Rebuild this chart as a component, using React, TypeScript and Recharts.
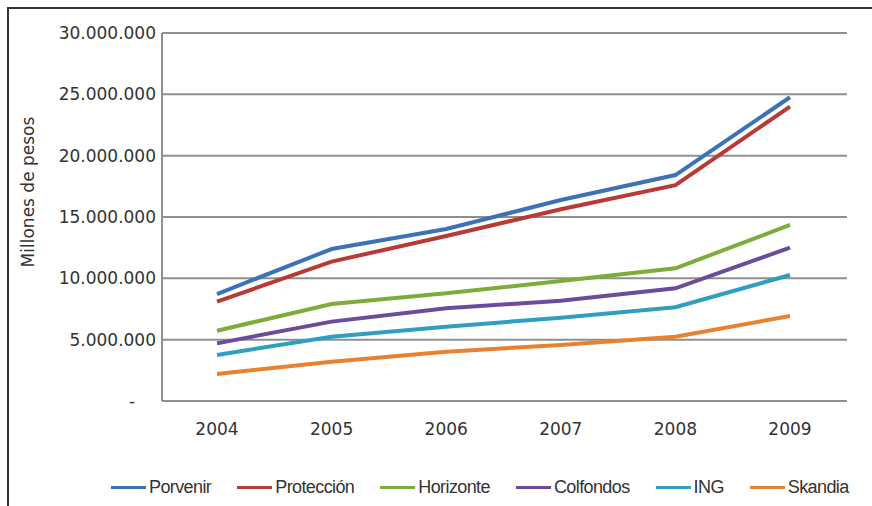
import { CartesianGrid, Line, LineChart, XAxis, YAxis } from "recharts";

const YEARS = ["2004", "2005", "2006", "2007", "2008", "2009"];

const PORVENIR = [8720000, 12390000, 14020000, 16390000, 18420000, 24760000];
const PROTECCION = [8100000, 11360000, 13450000, 15630000, 17600000, 24000000];
const HORIZONTE = [5730000, 7910000, 8780000, 9780000, 10820000, 14350000];
const COLFONDOS = [4700000, 6470000, 7560000, 8180000, 9190000, 12500000];
const ING = [3750000, 5240000, 6060000, 6790000, 7640000, 10270000];
const SKANDIA = [2200000, 3200000, 4020000, 4570000, 5240000, 6930000];

const Y_TICKS = [0, 5000000, 10000000, 15000000, 20000000, 25000000, 30000000];

const SERIES = [
  { key: "Porvenir", values: PORVENIR, color: "#3d71b8" },
  { key: "Protección", values: PROTECCION, color: "#b83a36" },
  { key: "Horizonte", values: HORIZONTE, color: "#7dac3b" },
  { key: "Colfondos", values: COLFONDOS, color: "#6b4b9b" },
  { key: "ING", values: ING, color: "#2e9fc0" },
  { key: "Skandia", values: SKANDIA, color: "#e8822f" },
];

const data = YEARS.map((year, i) => {
  const row: Record<string, string | number> = { year };
  SERIES.forEach((s) => {
    row[s.key] = s.values[i];
  });
  return row;
});

const AXIS_FONT = "'DejaVu Sans', sans-serif";
const LEGEND_FONT = "'Liberation Sans', Arial, sans-serif";
const TEXT_COLOR = "#333";
const GRID_COLOR = "#8f8f8f";

// thousands separated with dots
function fmt(v: number) {
  return String(v).replace(/\B(?=(\d{3})+(?!\d))/g, ".");
}

// zero is shown as an accounting dash, a bit left of the numbers
function YTick(props: any) {
  const { x, y, payload } = props;
  const isZero = payload.value === 0;
  return (
    <text
      x={isZero ? x - 24 : x}
      y={y}
      textAnchor={isZero ? "middle" : "end"}
      dominantBaseline="central"
      fill={TEXT_COLOR}
      fontFamily={AXIS_FONT}
      fontSize={17}
    >
      {isZero ? "-" : fmt(payload.value)}
    </text>
  );
}

function renderYLabel() {
  return (
    <text
      transform="translate(28,192) rotate(-90)"
      textAnchor="middle"
      dominantBaseline="central"
      fill={TEXT_COLOR}
      fontFamily={AXIS_FONT}
      fontSize={17}
    >
      Millones de pesos
    </text>
  );
}

function LegendRow() {
  return (
    <div
      style={{
        display: "flex",
        alignItems: "center",
        gap: 26,
        paddingLeft: 111,
        fontFamily: LEGEND_FONT,
        fontSize: 18,
        letterSpacing: -0.6,
        color: TEXT_COLOR,
        lineHeight: "22px",
      }}
    >
      {SERIES.map((s) => (
        <div key={s.key} style={{ display: "flex", alignItems: "center" }}>
          <span
            style={{
              display: "inline-block",
              width: 35,
              height: 3,
              backgroundColor: s.color,
              marginRight: 3,
            }}
          />
          {s.key}
        </div>
      ))}
    </div>
  );
}

export default function App() {
  return (
    <div
      style={{
        position: "absolute",
        left: 0,
        top: 0,
        width: 872,
        height: 506,
        background: "#fff",
        overflow: "hidden",
      }}
    >
      {/* frame: only top and left edges */}
      <div
        style={{
          position: "absolute",
          left: 7,
          top: 7,
          right: 0,
          bottom: 0,
          borderTop: "2px solid #333",
          borderLeft: "2px solid #333",
        }}
      />
      <div style={{ position: "absolute", left: 0, top: 0 }}>
        <LineChart
          width={872}
          height={506}
          data={data}
          margin={{ top: 33, right: 25, bottom: 75, left: 0 }}
        >
          <CartesianGrid
            vertical={false}
            stroke={GRID_COLOR}
            strokeWidth={2}
          />
          <XAxis
            dataKey="year"
            height={30}
            padding={{ left: 55, right: 57 }}
            axisLine={{ stroke: GRID_COLOR, strokeWidth: 2 }}
            tickLine={false}
            tickSize={0}
            tickMargin={22}
            tick={{ fill: TEXT_COLOR, fontSize: 17, fontFamily: AXIS_FONT }}
          />
          <YAxis
            width={162}
            domain={[0, 30000000]}
            ticks={Y_TICKS}
            interval={0}
            axisLine={{ stroke: GRID_COLOR, strokeWidth: 2 }}
            tickLine={false}
            tickSize={0}
            tickMargin={6}
            tick={<YTick />}
            label={renderYLabel}
          />
          {SERIES.map((s) => (
            <Line
              key={s.key}
              type="linear"
              dataKey={s.key}
              stroke={s.color}
              strokeWidth={4}
              dot={false}
              activeDot={false}
              isAnimationActive={false}
            />
          ))}
        </LineChart>
      </div>
      <div style={{ position: "absolute", left: 0, top: 476, width: 872 }}>
        <LegendRow />
      </div>
    </div>
  );
}
